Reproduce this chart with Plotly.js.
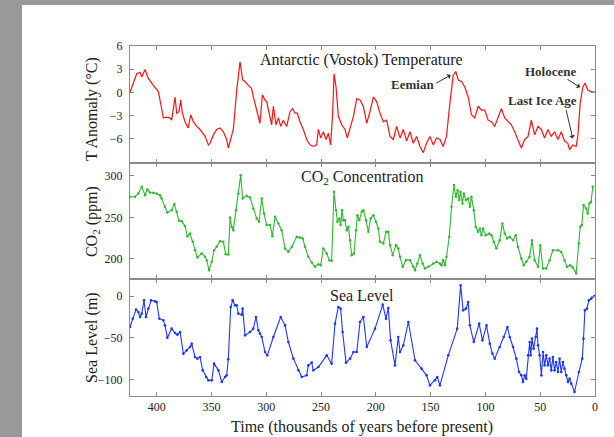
<!DOCTYPE html>
<html>
<head>
<meta charset="utf-8">
<script src="https://cdn.plot.ly/plotly-3.0.1.min.js"></script>
<style>
html,body{margin:0;padding:0;background:#999999;width:614px;height:437px;overflow:hidden;}
#chart{position:absolute;left:22px;top:5px;width:592px;height:432px;background:#fff;}
</style>
</head>
<body>
<div id="chart"></div>
<script>
// ---- Data (thousands of years before present) ----
const tempAge = [424.3,421,418.2,415.1,413.6,410.6,407.6,403.0,398.4,396.9,395.4,393.9,390.8,387.8,386.3,383.2,381.7,379.6,378.0,376.5,374.1,371.1,368.9,366.5,363.4,360.4,355.8,352.8,351.3,348.2,345.2,342.2,339.1,336.1,334.6,330.0,326.9,323.9,321.5,319.3,316.3,313.3,311.8,307.2,305.7,303.5,301.1,299.6,297.1,295.0,293.5,291.1,288.9,286.8,284.4,281.3,278.3,275.9,273.7,271.6,269.2,266.1,263.1,260.0,257.0,254.0,252.4,250.3,247.9,245.4,243.3,241.2,239.4,238.1,236.3,234.2,231.1,228.1,226.0,220.4,217.4,214.4,211.3,208.3,205.3,202.2,199.2,196.2,193.1,190.1,187.0,184.0,181.0,177.9,174.9,171.9,168.8,165.8,162.8,159.7,156.7,153.7,150.6,147.6,144.6,141.5,138.5,135.5,132.4,129.4,127.0,124.8,121.8,118.8,115.7,112.7,109.7,106.6,103.6,100.6,97.5,94.5,91.5,88.4,85.4,82.4,79.3,76.3,73.3,70.3,67.2,64.2,61.1,58.1,55.1,52.0,49.0,46.0,42.9,39.9,36.9,33.8,30.8,27.8,24.8,23.2,20.2,17.2,15.7,13.5,11.1,9.0,6.6,3.6,0.5];
const tempVal = [0,1.2,2.4,2.6,2.0,2.96,1.8,0.9,0.1,-1.0,-2.3,-3.3,-3.2,-3.3,-3.6,-0.6,-2.7,-2.5,-1.0,-2.7,-3.8,-4.6,-2.9,-3.8,-4.4,-4.8,-5.7,-6.8,-6.6,-5.5,-4.8,-4.6,-5.1,-6.1,-7.2,-4.8,0.3,3.94,1.6,1.4,0.9,0.5,-0.56,-3.1,-4.0,-0.3,-1.0,-1.2,-3.1,-4.2,-1.8,-4.2,-3.3,-4.4,-3.6,-4.4,-2.5,-2.1,-2.7,-2.7,-3.8,-4.8,-6.1,-6.8,-7.0,-6.8,-4.8,-5.9,-5.1,-6.1,-5.3,-6.8,-2.7,2.4,0.7,-3.1,-4.2,-4.8,-5.9,-3.1,-0.8,-1.0,-1.84,-4.0,-2.5,-0.6,-1.2,-2.7,-3.8,-3.6,-5.7,-6.1,-4.4,-5.9,-4.8,-6.3,-5.1,-6.6,-5.7,-7.0,-7.8,-6.6,-5.7,-6.8,-5.9,-6.1,-7.0,-5.7,-1.4,2.2,2.7,1.6,1.4,0.7,-0.6,-2.9,-3.3,-1.8,-2.3,-2.3,-3.6,-3.8,-4.4,-3.1,-2.1,-3.3,-3.8,-4.2,-5.1,-6.1,-7.2,-6.1,-5.7,-3.6,-5.5,-4.4,-4.8,-5.9,-4.8,-5.7,-5.1,-6.1,-5.1,-6.3,-6.6,-7.4,-6.8,-7.0,-5.7,-1.4,0.7,1.2,0.3,0.1,0];

const co2Age = [424.3,419.7,416.7,413.6,410.6,408.5,406.1,403.0,400.0,396.9,395.4,392.4,390.2,386.3,383.8,381.7,379.6,377.1,374.1,372.0,369.5,367.1,365.0,362.8,358.9,355.8,354.3,352.2,349.7,347.6,345.2,342.2,339.1,337.0,334.6,333.0,331.5,330.0,327.6,325.4,323.3,321.5,317.8,314.8,311.8,308.7,306.6,304.1,302.0,299.6,296.5,294.4,291.9,288.9,285.9,282.8,279.8,276.7,272.2,269.2,266.7,264.6,261.6,258.5,255.5,252.4,250.3,247.9,244.8,242.4,240.3,238.2,236.3,235.1,233.3,232.1,230.8,229.6,228.1,226.6,225.0,223.5,222.0,219.9,218.0,216.8,215.0,212.9,211.3,208.9,206.8,204.7,202.2,199.8,197.7,196.2,193.1,190.7,188.6,187.0,184.6,181.6,179.5,177.9,175.5,172.5,168.8,165.8,164.2,162.1,159.7,157.3,155.2,152.1,147.6,144.6,141.5,140.0,138.5,136.9,135.5,133.0,130.9,128.7,127.0,125.4,123.9,122.7,120.9,119.7,117.8,115.7,114.2,112.7,110.6,108.8,106.6,105.1,103.6,102.1,99.7,96.6,94.5,92.4,90.0,86.9,84.5,82.4,80.2,77.8,74.8,72.4,70.3,67.2,65.1,62.7,59.7,57.5,55.1,52.0,49.9,47.5,44.5,41.4,38.4,33.8,30.8,27.8,25.6,22.6,20.2,17.2,14.7,13.5,12.0,10.5,8.1,6.6,5.1,3.6,2.0];
const co2Val = [274.7,274.7,278.7,286.7,276.7,283.5,279.9,279.5,278.7,276.7,272.7,262.7,255.8,258.6,265.9,256.6,245.8,245.4,239.4,227.3,230.5,220.5,210.4,201.6,206.4,202.4,198.4,186.3,196.4,210.4,214.5,221.3,220.5,205.6,205.2,249.8,238.6,234.5,258.6,278.7,300.8,272.7,275.9,273.9,260.6,248.6,244.6,272.7,254.6,240.6,240.6,227.3,250.6,242.6,234.5,212.4,208.4,214.5,226.5,225.7,224.5,214.5,202.4,195.6,190.4,193.6,192.4,212.4,206.4,198.4,197.6,280.7,258.6,244.6,248.6,240.6,258.6,246.6,246.6,234.5,238.6,222.5,204.4,206.4,234.5,252.6,246.6,256.6,258.6,246.6,232.5,248.6,252.6,244.6,236.5,220.5,218.5,232.5,232.5,216.5,204.4,216.5,212.4,202.4,190.4,198.4,198.4,190.4,186.3,194.4,204.4,194.4,188.4,190.4,194.4,196.4,194.4,192.4,198.4,192.4,202.4,226.5,262.7,288.8,274.7,282.7,270.7,280.7,266.7,278.7,270.7,272.7,262.7,274.7,258.6,238.6,232.5,236.5,228.5,236.5,228.5,230.5,228.5,220.5,212.4,222.5,242.6,230.5,224.5,226.5,222.5,228.5,214.5,200.4,192.4,196.4,202.4,222.5,198.4,190.4,216.5,188.4,188.4,198.4,210.4,210.4,208.4,198.4,190.4,192.4,189.6,182.3,218.5,238.6,240.6,264.7,260.6,254.6,266.7,268.7,286.7];

const seaAge = [424.3,421.8,418.8,416.7,415.1,413.6,411.5,409.7,407.6,405.1,401.5,400.0,397.5,393.9,392.4,390.2,386.3,383.2,381.1,378.6,375.6,372.6,369.5,368.0,365.0,362.8,360.4,358.0,354.9,352.8,349.7,347.6,343.6,340.6,337.6,336.1,334.6,332.4,330.6,328.5,327.0,325.4,322.4,321.5,319.3,314.8,311.8,309.3,307.2,305.7,304.1,301.1,299.0,293.5,286.8,282.8,279.8,275.2,270.7,267.6,263.1,261.6,258.5,257.0,252.4,244.8,240.3,237.2,234.2,232.1,230.3,227.2,223.5,220.4,217.4,214.4,211.3,208.3,200.7,193.7,190.7,188.6,186.5,182.5,179.5,177.9,174.9,170.3,164.2,158.2,153.7,150.6,146.0,143.9,141.5,133.9,125.7,122.6,120.3,117.8,115.7,114.2,110.6,105.7,102.7,99.0,96.0,93.6,91.5,86.9,83.3,79.9,77.8,74.8,71.8,69.3,67.2,65.7,64.2,62.7,61.1,59.6,58.7,57.5,56.0,54.1,52.9,52.0,50.5,48.9,47.4,46.0,44.5,42.9,41.4,39.9,38.4,36.9,35.4,33.8,32.3,30.8,29.3,27.8,26.2,24.7,23.2,21.7,18.7,14.7,11.6,10.5,9.2,7.4,5.6,3.5,0.5];
const seaVal = [-37.2,-27.2,-16.4,-19.2,-25.2,-21.2,-5.2,-25.2,-15.2,-5.2,-6.4,-7.2,-27.2,-29.2,-35.2,-50,-39.2,-44.4,-46.4,-43.2,-69.2,-65.2,-61.2,-57.2,-73.2,-75.2,-73.2,-89.2,-97.2,-101.2,-101.2,-81.2,-89.2,-103.2,-97.2,-95.2,-76,-13.2,-5.2,-11.2,-11.2,-21.2,-22.4,-15.2,-47.2,-43.2,-39.2,-25.2,-41.2,-45.2,-49.2,-67.2,-71.2,-49.2,-25.2,-35.2,-55.2,-75.2,-89.2,-97.2,-95.2,-83.2,-80,-89.2,-85.2,-71.2,-81.2,-33.2,-13.2,-15.2,-43.2,-80,-75.2,-67.2,-67.2,-31.2,-25.2,-61.2,-39.2,-10.4,-27.2,-14.4,-53.2,-83.2,-49.2,-67.2,-59.2,-31.2,-77.2,-87.2,-95.2,-107.2,-101.2,-97.2,-107.2,-71.2,-39.2,12.8,-17.2,-15.2,-7.2,-35.2,-55.2,-33.2,-53.2,-35.2,-57.2,-69.2,-75.2,-61.2,-49.2,-37.2,-49.2,-61.2,-75.2,-91.2,-95.2,-103.2,-95.2,-99.2,-71.2,-55.2,-71.2,-51.2,-63.2,-49.2,-39.2,-59.2,-71.2,-95.2,-67.2,-83.2,-71.2,-83.2,-75.2,-89.2,-73.2,-89.2,-79.2,-91.2,-75.2,-91.2,-79.2,-87.2,-95.2,-103.2,-99.2,-105.2,-115.2,-91.2,-75.2,-51.2,-17.2,-15.2,-5.2,-3.2,0];

const xTicks = [0,50,100,150,200,250,300,350,400];
const tempTicks = [-6,-3,0,3,6];
const co2Ticks = [200,250,300];
const seaTicks = [-100,-50,0];

const panelTitles = ['Antarctic (Vostok) Temperature','CO<sub>2</sub> Concentration','Sea Level'];
const yTitles = ['T Anomaly (°C)','CO<sub>2</sub> (ppm)','Sea Level (m)'];
const xTitle = 'Time (thousands of years before present)';

// ---- Traces ----
const traces = [
  {x: tempAge, y: tempVal, xaxis:'x', yaxis:'y', type:'scatter', mode:'lines',
   line:{color:'#ff1111', width:1.2}},
  {x: co2Age, y: co2Val, xaxis:'x2', yaxis:'y2', type:'scatter', mode:'lines+markers',
   line:{color:'#2eb82e', width:1.1}, marker:{color:'#2eb82e', size:2.5}},
  {x: seaAge, y: seaVal, xaxis:'x3', yaxis:'y3', type:'scatter', mode:'lines+markers',
   line:{color:'#1f35ff', width:1.1}, marker:{color:'#1f35ff', size:2.6}}
];

const frame = {showline:true, linecolor:'#8a8a8a', linewidth:1, mirror:'ticks',
  ticks:'inside', ticklen:4, tickcolor:'#8a8a8a', tickwidth:1,
  showgrid:false, zeroline:false, fixedrange:true};
const xBase = Object.assign({}, frame, {range:[424.3,0], tickvals:xTicks, ticktext:xTicks.map(String)});

const FAM = 'Liberation Serif, Times New Roman, serif';
const axFont = {family:FAM, size:12, color:'#222'};
const titleFont = {family:FAM, size:16, color:'#222'};
const noteFont = {family:FAM, size:13, color:'#333'};

const layout = {
  width:592, height:432,
  margin:{l:108, r:19, t:41, b:41, pad:0},
  paper_bgcolor:'#ffffff', plot_bgcolor:'#ffffff',
  font: axFont,
  showlegend:false,
  xaxis: Object.assign({}, xBase, {anchor:'y', showticklabels:false}),
  xaxis2: Object.assign({}, xBase, {anchor:'y2', showticklabels:false}),
  xaxis3: Object.assign({}, xBase, {anchor:'y3', showticklabels:true, tickfont:axFont}),
  yaxis: Object.assign({}, frame, {domain:[2/3,1], range:[-9.1,6], tickvals:tempTicks, anchor:'x', tickfont:axFont, ticklabelstandoff:4}),
  yaxis2: Object.assign({}, frame, {domain:[1/3,2/3], range:[175.3,315.8], tickvals:co2Ticks, anchor:'x2', tickfont:axFont, ticklabelstandoff:4}),
  yaxis3: Object.assign({}, frame, {domain:[0,1/3], range:[-120,20], tickvals:seaTicks, anchor:'x3', tickfont:axFont, ticklabelstandoff:4}),
  annotations: [
    {text:panelTitles[0], xref:'paper', yref:'paper', x:0.498, y:0.959, showarrow:false, font:titleFont, xanchor:'center', yanchor:'middle'},
    {text:panelTitles[1], xref:'paper', yref:'paper', x:0.498, y:0.625, showarrow:false, font:titleFont, xanchor:'center', yanchor:'middle'},
    {text:panelTitles[2], xref:'paper', yref:'paper', x:0.498, y:0.286, showarrow:false, font:titleFont, xanchor:'center', yanchor:'middle'},
    {text:yTitles[0], xref:'paper', yref:'paper', x:-0.0816, y:0.82, textangle:-90, showarrow:false, font:titleFont, xanchor:'center', yanchor:'middle'},
    {text:yTitles[1], xref:'paper', yref:'paper', x:-0.0816, y:0.497, textangle:-90, showarrow:false, font:titleFont, xanchor:'center', yanchor:'middle'},
    {text:yTitles[2], xref:'paper', yref:'paper', x:-0.0816, y:0.166, textangle:-90, showarrow:false, font:titleFont, xanchor:'center', yanchor:'middle'},
    {text:xTitle, xref:'paper', yref:'paper', x:0.498, y:-0.0886, showarrow:false, font:titleFont, xanchor:'center', yanchor:'middle'},
    {text:'<b>Eemian</b>', xref:'paper', yref:'paper', x:0.608, y:0.891, showarrow:false, font:noteFont, xanchor:'center', yanchor:'middle'},
    {text:'<b>Holocene</b>', xref:'paper', yref:'paper', x:0.904, y:0.927, showarrow:false, font:noteFont, xanchor:'center', yanchor:'middle'},
    {text:'<b>Last Ice Age</b>', xref:'paper', yref:'paper', x:0.887, y:0.843, showarrow:false, font:noteFont, xanchor:'center', yanchor:'middle'},
    {text:'', xref:'x', yref:'y', x:131.7, y:2.24, ax:-16, ay:9, showarrow:true, arrowhead:1, arrowsize:1, arrowwidth:1, arrowcolor:'#333'},
    {text:'', xref:'x', yref:'y', x:13.7, y:0.65, ax:-14, ay:-9, showarrow:true, arrowhead:1, arrowsize:1, arrowwidth:1, arrowcolor:'#333'},
    {text:'', xref:'x', yref:'y', x:20.3, y:-5.96, ax:-7, ay:-30, showarrow:true, arrowhead:1, arrowsize:1, arrowwidth:1, arrowcolor:'#333'}
  ]
};

Plotly.newPlot('chart', traces, layout, {displayModeBar:false, staticPlot:true});
</script>
</body>
</html>
